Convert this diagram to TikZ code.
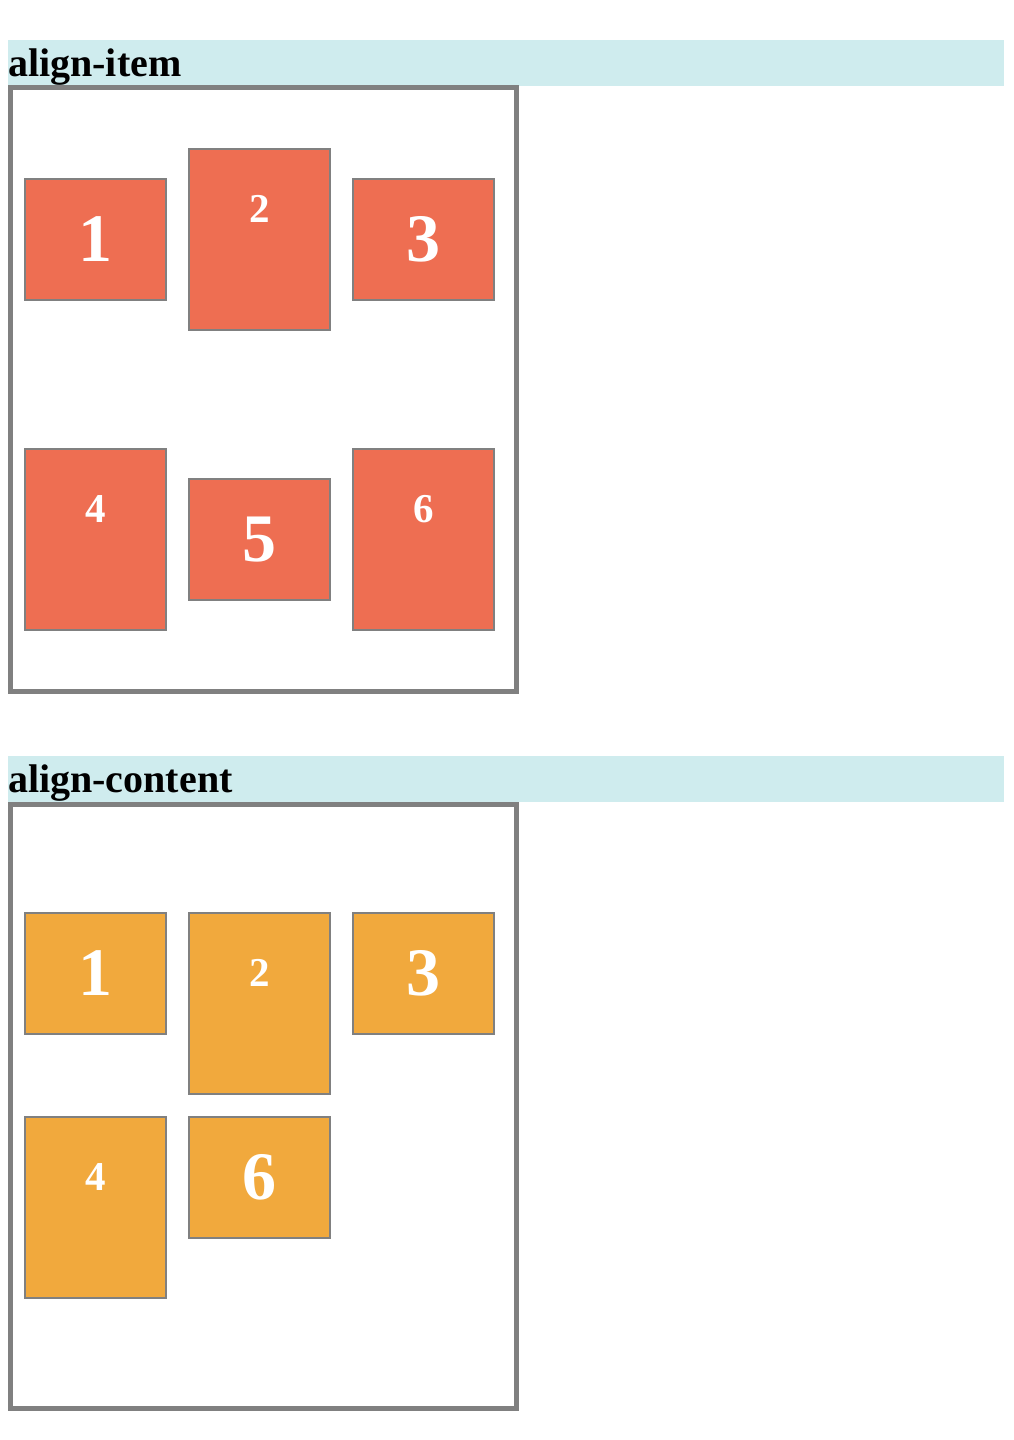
\documentclass[tikz,border=0pt]{standalone}
\usepackage{fontspec}
\setmainfont{Liberation Serif}
\definecolor{headcyan}{HTML}{CFECEE}
\definecolor{itemred}{HTML}{EE6E52}
\definecolor{itemorange}{HTML}{F1A93D}
\definecolor{framegray}{HTML}{808080}
\tikzset{
	headband/.style = {fill = headcyan},
	headtext/.style = {anchor = base west, inner sep = 0pt, font = \bfseries\fontsize{40}{40}\selectfont},
	frame/.style = {draw = framegray, line width = 5pt, minimum width = 506pt, minimum height = 604pt, inner sep = 0pt},
	item/.style = {draw = framegray, line width = 2pt, minimum width = 141pt, inner sep = 0pt},
	shortitem/.style = {item, minimum height = 121pt, text = white, font = \bfseries\fontsize{68}{68}\selectfont},
	tallitem/.style = {item, minimum height = 181pt},
	smallnum/.style = {text = white, inner sep = 0pt, font = \bfseries\fontsize{41}{41}\selectfont}
}

\begin{document}
\begin{tikzpicture}[x = 1pt, y = -1pt]
	\useasboundingbox (0,0) rectangle (1014,1440);

	% align-item
	\fill[headband] (8,40) rectangle (1004,86);
	\node[headtext] (itemhead) at (8,76) {align-item};
	\node[frame] (itemframe) at (263.5,389.5) {};
	\node[shortitem, fill = itemred] (i1) at (95.5,239.5) {1};
	\node[tallitem, fill = itemred] (i2) at (259.5,239.5) {};
	\node[smallnum] (n2) at ([yshift = -61pt]i2.north) {2};
	\node[shortitem, fill = itemred] (i3) at (423.5,239.5) {3};
	\node[tallitem, fill = itemred] (i4) at (95.5,539.5) {};
	\node[smallnum] (n4) at ([yshift = -61pt]i4.north) {4};
	\node[shortitem, fill = itemred] (i5) at (259.5,539.5) {5};
	\node[tallitem, fill = itemred] (i6) at (423.5,539.5) {};
	\node[smallnum] (n6) at ([yshift = -61pt]i6.north) {6};

	% align-content
	\fill[headband] (8,756) rectangle (1004,802);
	\node[headtext] (contenthead) at (8,792) {align-content};
	\node[frame] (contentframe) at (263.5,1106) {};
	\node[shortitem, fill = itemorange] (c1) at (95.5,973.5) {1};
	\node[tallitem, fill = itemorange] (c2) at (259.5,1003.5) {};
	\node[smallnum] (m2) at ([yshift = -61pt]c2.north) {2};
	\node[shortitem, fill = itemorange] (c3) at (423.5,973.5) {3};
	\node[tallitem, fill = itemorange] (c4) at (95.5,1207.5) {};
	\node[smallnum] (m4) at ([yshift = -61pt]c4.north) {4};
	\node[shortitem, fill = itemorange] (c6) at (259.5,1177.5) {6};
\end{tikzpicture}
\end{document}
